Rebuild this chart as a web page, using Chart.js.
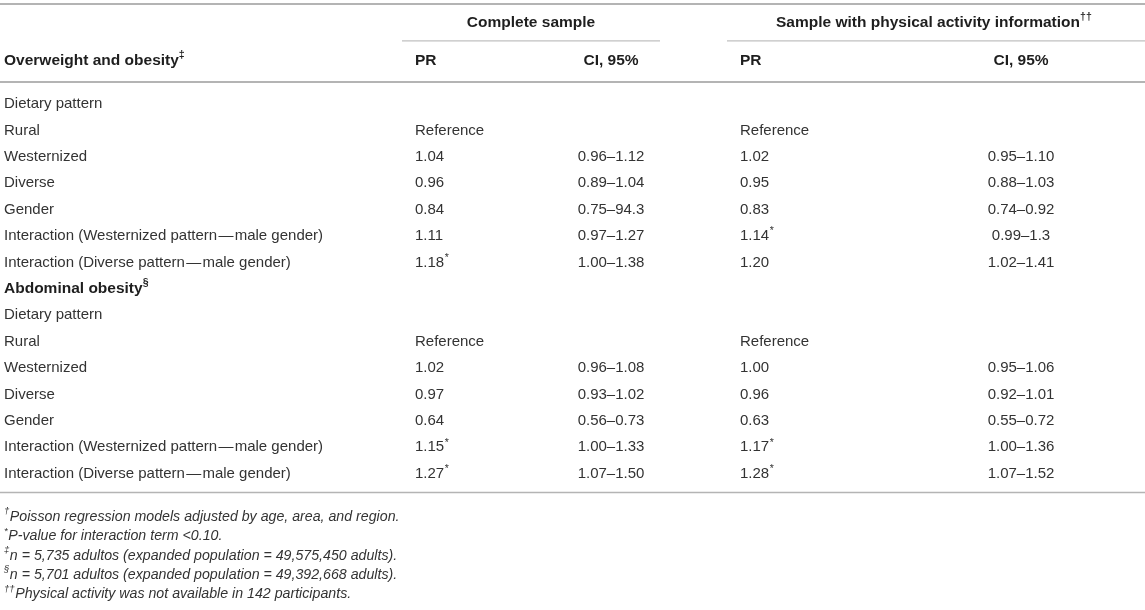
<!DOCTYPE html>
<html>
<head>
<meta charset="utf-8">
<script src="https://cdn.jsdelivr.net/npm/chart.js@4.4.1/dist/chart.umd.min.js"></script>
<style>
  html, body { margin: 0; padding: 0; background: #fff; }
  canvas { display: block; }
</style>
</head>
<body>
<canvas id="table" width="1145" height="610"></canvas>
<script>
// row labels (first column)
const rowLabels = [
    'Dietary pattern', 'Rural', 'Westernized', 'Diverse', 'Gender',
    'Interaction (Westernized pattern\u200a\u2014\u200amale gender)',
    'Interaction (Diverse pattern\u200a\u2014\u200amale gender)',
    'Abdominal obesity',
    'Dietary pattern', 'Rural', 'Westernized', 'Diverse', 'Gender',
    'Interaction (Westernized pattern\u200a\u2014\u200amale gender)',
    'Interaction (Diverse pattern\u200a\u2014\u200amale gender)'
];
const boldRows = [7];

// complete sample
const completePR = ['', 'Reference', '1.04', '0.96', '0.84', '1.11', '1.18*', '', '', 'Reference', '1.02', '0.97', '0.64', '1.15*', '1.27*'];
const completeCI = ['', '', '0.96–1.12', '0.89–1.04', '0.75–94.3', '0.97–1.27', '1.00–1.38', '', '', '', '0.96–1.08', '0.93–1.02', '0.56–0.73', '1.00–1.33', '1.07–1.50'];

// sample with physical activity information
const physPR = ['', 'Reference', '1.02', '0.95', '0.83', '1.14*', '1.20', '', '', 'Reference', '1.00', '0.96', '0.63', '1.17*', '1.28*'];
const physCI = ['', '', '0.95–1.10', '0.88–1.03', '0.74–0.92', '0.99–1.3', '1.02–1.41', '', '', '', '0.95–1.06', '0.92–1.01', '0.55–0.72', '1.00–1.36', '1.07–1.52'];

const footnotes = [
    [['†', true], ['Poisson regression models adjusted by age, area, and region.', false]],
    [['*', true], ['P-value for interaction term <0.10.', false]],
    [['‡', true], ['n = 5,735 adultos (expanded population = 49,575,450 adults).', false]],
    [['§', true], ['n = 5,701 adultos (expanded population = 49,392,668 adults).', false]],
    [['††', true], ['Physical activity was not available in 142 participants.', false]]
];

// layout (x in canvas px, y in row units)
const colX = { label: 4, pr1: 415, ci1: 611, pr2: 740, ci2: 1021 };
const spans = [[402, 660, 531, 'Complete sample'], [727, 1145, 932, 'Sample with physical activity information']];
const headY1 = -3.07, headY2 = -1.63;
const ruleTop = -3.79, ruleSpan = -2.39, ruleHead = -0.83, ruleBottom = 14.72;
const footY = [15.65, 16.38, 17.11, 17.84, 18.57];

const FONT = '"Liberation Sans", Arial, Helvetica, sans-serif';
const SIZE = 15;
const HEAD = 15.5;
const NOTE = 14.2;

function rich(ctx, parts, x, y, style, size) {
    // parts: [text, superscript]
    let cx = x;
    for (const [t, sup] of parts) {
        const s = sup ? size * 0.68 : size;
        ctx.font = style + ' ' + s + 'px ' + FONT;
        ctx.fillText(t, cx, sup ? y - size * 0.38 : y);
        cx += ctx.measureText(t).width + (sup ? 0.5 : 0);
    }
}

function cell(ctx, text, x, y, align) {
    const star = text.endsWith('*');
    const body = star ? text.slice(0, -1) : text;
    ctx.font = SIZE + 'px ' + FONT;
    let w = ctx.measureText(body).width;
    let sx = align === 'center' ? x - w / 2 : x;
    ctx.textAlign = 'left';
    ctx.fillText(body, sx, y);
    if (star) {
        ctx.font = (SIZE * 0.7) + 'px ' + FONT;
        ctx.fillText('*', sx + w + 0.5, y - SIZE * 0.3);
    }
}

const tablePlugin = {
    id: 'tablePlugin',
    afterDraw(chart) {
        const ctx = chart.ctx;
        const xs = chart.scales.x, ys = chart.scales.y;
        const px = v => xs.getPixelForValue(v);
        const py = v => ys.getPixelForValue(v);
        ctx.save();
        ctx.textBaseline = 'middle';

        // rules
        ctx.strokeStyle = '#b4b4b4';
        ctx.lineWidth = 2;
        [ruleTop, ruleHead].forEach(r => {
            ctx.beginPath(); ctx.moveTo(px(0), py(r)); ctx.lineTo(px(1145), py(r)); ctx.stroke();
        });
        ctx.lineWidth = 1.5;
        ctx.beginPath(); ctx.moveTo(px(0), py(ruleBottom)); ctx.lineTo(px(1145), py(ruleBottom)); ctx.stroke();
        ctx.lineWidth = 1.2;
        ctx.strokeStyle = '#c0c0c0';
        spans.forEach(s => {
            ctx.beginPath(); ctx.moveTo(px(s[0]), py(ruleSpan)); ctx.lineTo(px(s[1]), py(ruleSpan)); ctx.stroke();
        });

        // header
        ctx.fillStyle = '#1e1e1e';
        ctx.font = 'bold ' + HEAD + 'px ' + FONT;
        ctx.textAlign = 'center';
        ctx.fillText(spans[0][3], px(spans[0][2]), py(headY1));
        ctx.textAlign = 'left';
        const w2 = ctx.measureText(spans[1][3]).width;
        rich(ctx, [[spans[1][3], false], ['††', true]], px(spans[1][2]) - w2 / 2 - 4, py(headY1), 'bold', HEAD);
        rich(ctx, [['Overweight and obesity', false], ['‡', true]], px(colX.label), py(headY2), 'bold', HEAD);
        ctx.font = 'bold ' + HEAD + 'px ' + FONT;
        ctx.fillText('PR', px(colX.pr1), py(headY2));
        ctx.fillText('PR', px(colX.pr2), py(headY2));
        ctx.textAlign = 'center';
        ctx.fillText('CI, 95%', px(colX.ci1), py(headY2));
        ctx.fillText('CI, 95%', px(colX.ci2), py(headY2));
        ctx.textAlign = 'left';

        // body rows
        rowLabels.forEach((lab, i) => {
            const y = py(i);
            if (boldRows.includes(i)) {
                ctx.fillStyle = '#1e1e1e';
                rich(ctx, [[lab, false], ['§', true]], px(colX.label), y, 'bold', HEAD);
            } else {
                ctx.fillStyle = '#333';
                ctx.font = SIZE + 'px ' + FONT;
                ctx.fillText(lab, px(colX.label), y);
            }
            ctx.fillStyle = '#333';
            cell(ctx, completePR[i], px(colX.pr1), y, 'left');
            cell(ctx, completeCI[i], px(colX.ci1), y, 'center');
            cell(ctx, physPR[i], px(colX.pr2), y, 'left');
            cell(ctx, physCI[i], px(colX.ci2), y, 'center');
        });

        // footnotes
        ctx.fillStyle = '#333';
        footnotes.forEach((parts, i) => {
            rich(ctx, parts, px(colX.label), py(footY[i]), 'italic', NOTE);
        });
        ctx.restore();
    }
};

new Chart(document.getElementById('table').getContext('2d'), {
    type: 'scatter',
    data: { datasets: [] },
    options: {
        responsive: false,
        animation: false,
        layout: { padding: 0 },
        plugins: { legend: { display: false }, tooltip: { enabled: false } },
        scales: {
            x: { type: 'linear', min: 0, max: 1145, display: false },
            y: { type: 'linear', min: -3.939, max: 19.167, reverse: true, display: false }
        }
    },
    plugins: [tablePlugin]
});
</script>
</body>
</html>
